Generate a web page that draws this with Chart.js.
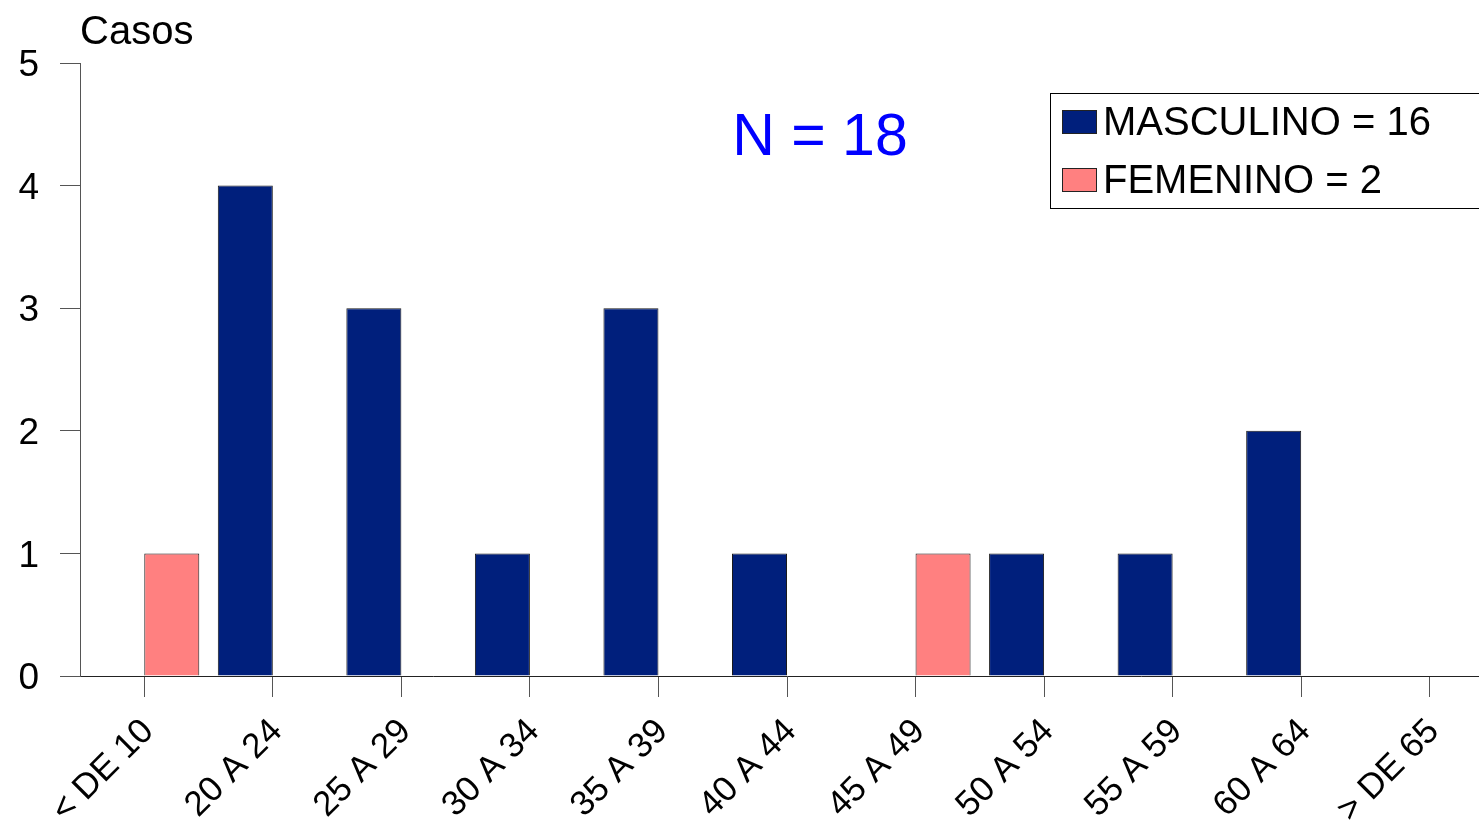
<!DOCTYPE html>
<html>
<head>
<meta charset="utf-8">
<script src="https://cdn.jsdelivr.net/npm/chart.js@4/dist/chart.umd.min.js"></script>
<style>
  html, body { margin: 0; padding: 0; background: #fff; overflow: hidden; }
  #wrap { width: 1500px; height: 820px; }
</style>
</head>
<body>
<div id="wrap"><canvas id="c" width="1500" height="820"></canvas></div>
<script>
const categories = ["< DE 10", "20 A 24", "25 A 29", "30 A 34", "35 A 39", "40 A 44", "45 A 49", "50 A 54", "55 A 59", "60 A 64", "> DE 65"];
const masculino = [0, 4, 3, 1, 3, 1, 0, 1, 1, 2, 0];
const femenino = [1, 0, 0, 0, 0, 0, 1, 0, 0, 0, 0];
const seriesLabels = ["MASCULINO = 16", "FEMENINO = 2"];
const yTicks = [0, 1, 2, 3, 4, 5];
const axisTitle = "Casos";
const annotation = "N = 18";

const FONT = "'Liberation Sans', Arial, sans-serif";
const BLUE = "#001F7C";
const PINK = "#FF8080";

const overlay = {
  id: 'overlay',
  afterDraw(chart) {
    const ctx = chart.ctx;
    ctx.save();
    // axis title
    ctx.fillStyle = '#000';
    ctx.font = `40px ${FONT}`;
    ctx.textAlign = 'left';
    ctx.textBaseline = 'middle';
    ctx.fillText(axisTitle, 80, 33);
    // N annotation
    ctx.fillStyle = '#0000FF';
    ctx.font = `59px ${FONT}`;
    ctx.textAlign = 'center';
    ctx.fillText(annotation, 820, 139);
    // legend box
    ctx.fillStyle = '#fff';
    ctx.fillRect(1050.5, 93.5, 460, 115);
    ctx.strokeStyle = '#000';
    ctx.lineWidth = 1;
    ctx.strokeRect(1050.5, 93.5, 460, 115);
    const rows = [122, 180];
    chart.data.datasets.forEach((ds, i) => {
      const y = rows[i];
      ctx.fillStyle = ds.backgroundColor;
      ctx.fillRect(1062.5, y - 11.5, 34, 23);
      ctx.strokeStyle = '#222';
      ctx.strokeRect(1062.5, y - 11.5, 34, 23);
      ctx.fillStyle = '#000';
      ctx.font = `40px ${FONT}`;
      ctx.textAlign = 'left';
      ctx.textBaseline = 'middle';
      ctx.fillText(ds.label, 1103, y + 2);
    });
    ctx.restore();
  }
};

new Chart(document.getElementById('c'), {
  type: 'bar',
  data: {
    labels: categories,
    datasets: [
      { label: seriesLabels[0], data: masculino, backgroundColor: BLUE, borderColor: '#1a1a1a', borderWidth: 1 },
      { label: seriesLabels[1], data: femenino, backgroundColor: PINK, borderColor: '#1a1a1a', borderWidth: 1 }
    ]
  },
  options: {
    responsive: false,
    animation: false,
    devicePixelRatio: 1,
    layout: { padding: { top: 63, right: 6, left: 0, bottom: 0 } },
    datasets: { bar: { categoryPercentage: 0.856, barPercentage: 1.0 } },
    plugins: { legend: { display: false }, tooltip: { enabled: false } },
    scales: {
      x: {
        offset: true,
        grid: { display: true, offset: false, drawOnChartArea: false, drawTicks: true, tickLength: 21, color: '#555', lineWidth: 1 },
        border: { display: true, color: '#222', width: 1 },
        ticks: { color: '#000', font: { family: FONT, size: 35 }, maxRotation: 45, minRotation: 45, padding: 14, labelOffset: 4, autoSkip: false },
        afterFit(scale) { scale.height = 144; }
      },
      y: {
        min: 0, max: 5,
        afterBuildTicks(scale) { scale.ticks = yTicks.map(v => ({ value: v })); },
        grid: { display: true, drawOnChartArea: false, drawTicks: true, tickLength: 20, color: '#555', lineWidth: 1 },
        border: { display: true, color: '#555', width: 1 },
        ticks: { color: '#000', font: { family: FONT, size: 37 }, padding: 21, labelOffset: 3 },
        afterFit(scale) { scale.width = 80; }
      }
    }
  },
  plugins: [overlay]
});
</script>
</body>
</html>
